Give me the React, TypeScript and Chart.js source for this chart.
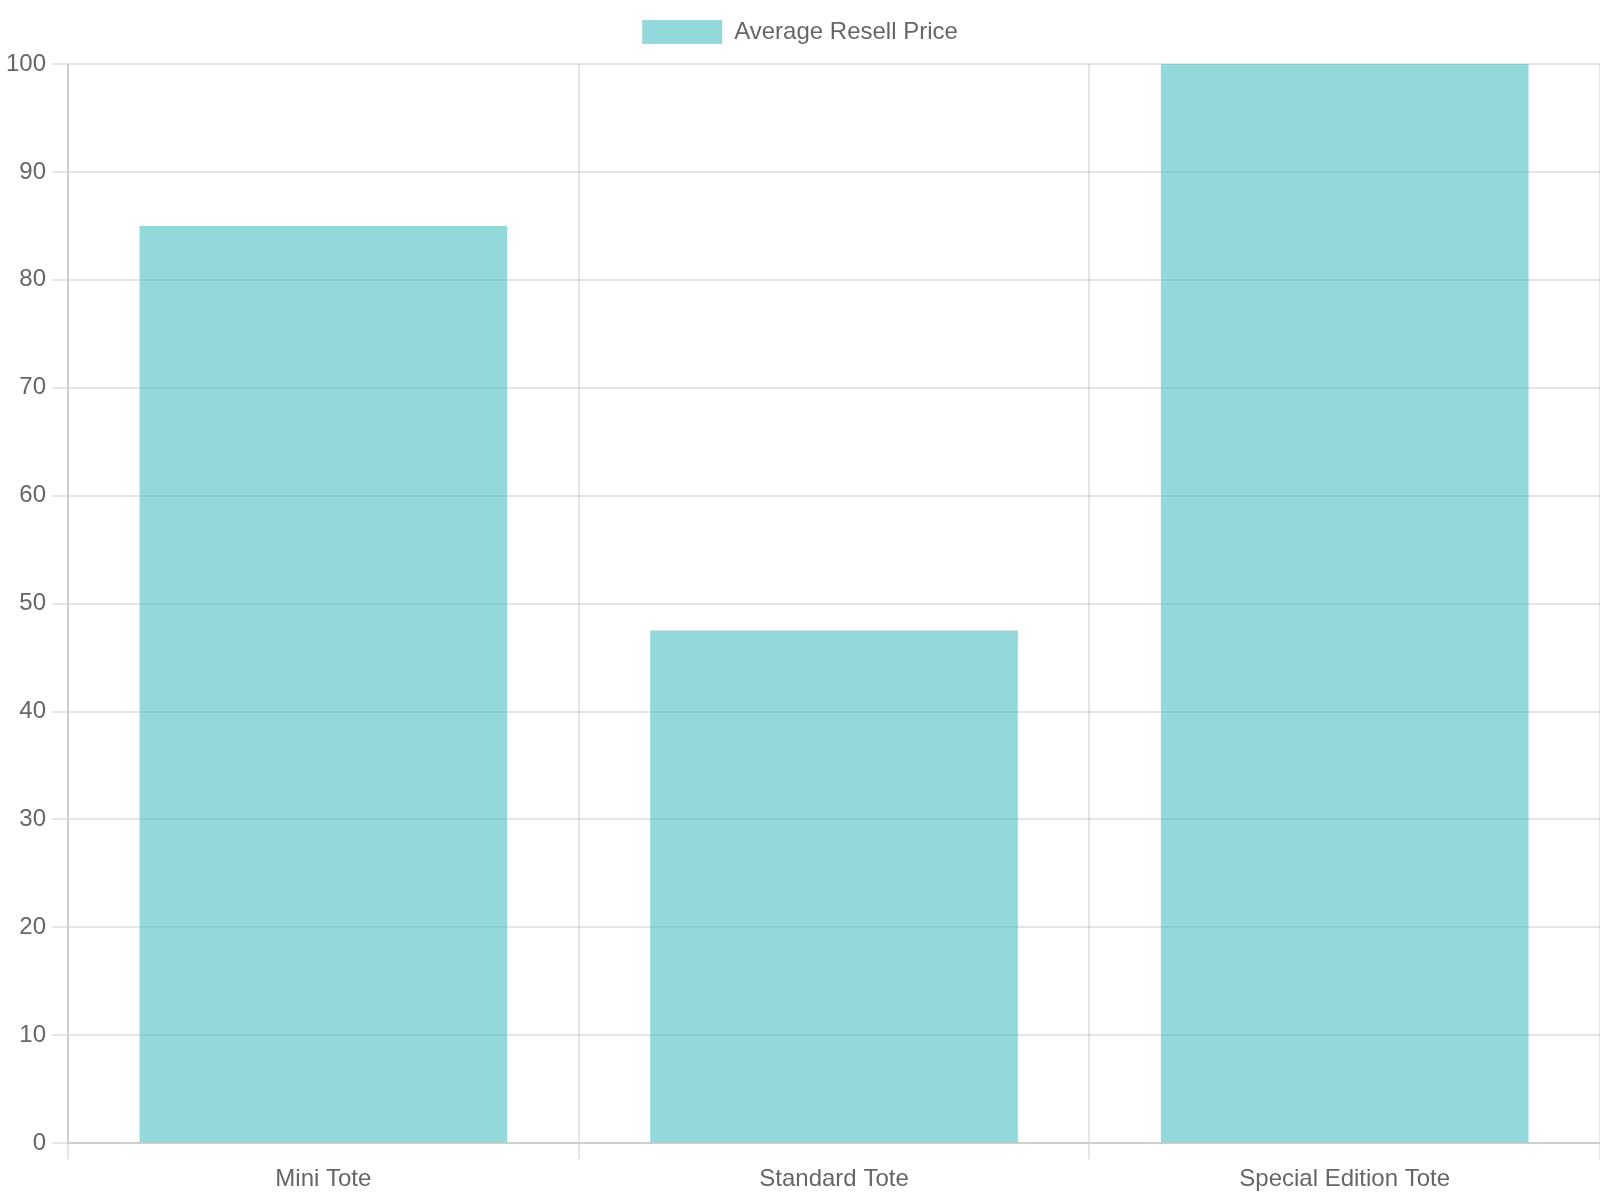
import React, { useEffect, useRef } from "react";
import { Chart, registerables } from "chart.js";

Chart.register(...registerables);

const categories: string[] = ["Mini Tote", "Standard Tote", "Special Edition Tote"];
const resellPrices: number[] = [85, 47.5, 100];
const seriesLabel = "Average Resell Price";

export default function App() {
  const ref = useRef<HTMLCanvasElement | null>(null);

  useEffect(() => {
    if (!ref.current) return;
    const chart = new Chart(ref.current, {
      type: "bar",
      data: {
        labels: categories,
        datasets: [
          {
            label: seriesLabel,
            data: resellPrices,
            backgroundColor: "rgba(75, 192, 192, 0.6)",
            borderWidth: 0,
          },
        ],
      },
      options: {
        responsive: false,
        devicePixelRatio: 2,
        animation: false,
        scales: {
          y: { beginAtZero: true },
        },
      },
    });
    return () => chart.destroy();
  }, []);

  return (
    <div
      style={{
        position: "fixed",
        top: 0,
        left: 0,
        width: 800,
        height: 600,
        transform: "scale(2)",
        transformOrigin: "0 0",
        background: "#fff",
      }}
    >
      <canvas ref={ref} width={800} height={600} />
    </div>
  );
}
